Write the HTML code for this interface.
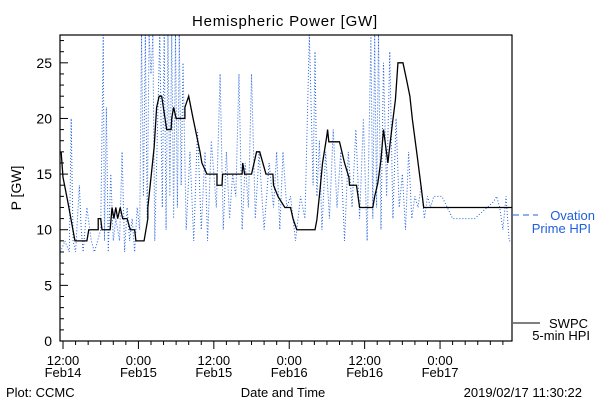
<!DOCTYPE html>
<html><head><meta charset="utf-8"><style>
body{margin:0;background:#fff}
svg{display:block;font-family:"Liberation Sans",sans-serif}
</style></head><body>
<svg id="chart" width="600" height="400" xmlns="http://www.w3.org/2000/svg">
<rect width="600" height="400" fill="#fff"/>
<text x="285" y="26" font-size="15" text-anchor="middle" letter-spacing="0.8">Hemispheric Power [GW]</text>
<text transform="translate(21,188) rotate(-90)" font-size="14" text-anchor="middle">P [GW]</text>
<text x="283" y="397" font-size="13" text-anchor="middle">Date and Time</text>
<text x="6" y="397" font-size="13">Plot: CCMC</text>
<text x="582" y="397" font-size="13" text-anchor="end">2019/02/17 11:30:22</text>
<g id="axes"></g>
<g id="series"></g>
<rect x="60" y="35" width="452" height="306" fill="none" stroke="#000" stroke-width="1.2"/>
<g>
<line x1="513" y1="215" x2="538" y2="215" stroke="#1f5fe0" stroke-width="1" stroke-dasharray="6,4"/>
<text x="595" y="220" font-size="13" fill="#1f5fe0" text-anchor="end">Ovation</text>
<text x="591" y="233" font-size="13" fill="#1f5fe0" text-anchor="end">Prime HPI</text>
</g>
<g>
<line x1="513" y1="323" x2="540" y2="323" stroke="#000" stroke-width="1"/>
<text x="588" y="328" font-size="13" text-anchor="end">SWPC</text>
<text x="590" y="340" font-size="13" text-anchor="end">5-min HPI</text>
</g>
</svg>
<script>
// hours since Feb14 12:00
const xTickHours=[0,12,24,36,48,60];
const xTickTop=["12:00","0:00","12:00","0:00","12:00","0:00"];
const xTickBottom=["Feb14","Feb15","Feb15","Feb16","Feb16","Feb17"];
const yTicks=[0,5,10,15,20,25];
const swpcHours=[-0.3,0,0.8,1.9,3.8,4.1,5.6,5.6,6,6.2,7.5,7.8,8.1,8.4,8.7,9.1,9.5,10.2,10.7,11.4,11.6,12.9,13.5,13.5,14.5,14.9,15.3,15.7,16.5,17.2,17.3,17.6,18,19.4,19.4,20,20.7,21.8,22.1,22.9,24.5,24.5,25.3,25.4,28.5,28.6,28.9,30,30.8,31.3,32.3,33.4,33.5,34.2,35.3,36.2,36.6,37.2,40.1,40.4,40.9,41.3,42,42.1,42.3,44,44.8,45.5,45.6,46.7,47.2,49.3,49.6,50.1,50.6,51,51.7,52.1,52.5,52.9,53.3,54.1,54.7,55.2,55.6,56.3,56.8,57.4,71.4];
const swpcValues=[17,14.7,12.4,9,9,10,10,11,11,10,10,12,11,12,11,12,11,11,10,10,9,9,11,12,17.4,21,22,22,19,19,20,21,20,20,21,22,20,17,16,15,15,14,14,15,15,16,15,15,17,17,15,15,14,13,12,12,11,10,10,10.9,13.6,16,18.5,19,17.9,17.9,16,14.7,14,14,12,12,13,14.2,16.3,19,16,18,19.9,21.7,25,25,23.4,22,19.9,16.9,14.7,12,12];
const ovHours=[-0.4,0.3,1,1.3,1.6,2,2.6,2.9,3.2,3.8,4.5,5,6,6.4,6.6,6.9,7.2,7.6,8,8.4,9,9.4,9.8,10.2,10.6,11,11.4,11.8,12.2,12.5,12.8,13.1,13.4,13.7,14,14.3,14.6,15.4,15.8,16.1,16.4,16.7,17,17.3,17.6,17.9,18.2,18.5,18.8,19.1,19.6,20.2,20.8,21.4,22,22.6,23,23.6,24.4,25,25.5,26,26.5,27,27.5,28,28.5,29,29.5,30,30.6,31.2,32,32.8,33.5,34,34.5,35,35.6,36.2,37,37.8,38.5,39.2,39.8,40.1,40.4,40.8,41.2,41.8,42.4,43,43.6,44.2,44.8,45.4,46,46.6,47.2,47.8,48.4,49,49.3,49.6,49.9,50.2,50.6,51,51.5,52,52.5,53,53.5,54,54.5,55,55.5,56,56.5,57,57.5,58,58.5,59,60,60.3,62,63.5,65.5,67.5,68.5,69,69.5,70,70.5,71,71.4];
const ovValues=[8,9,8,20,9,8,14,10,8,12,9,8,10,27.5,9,21,8,15,9,11,9,17,8,12,9,11,8,12,10,27.5,13,27.5,11,27.5,24,27.5,9,27.5,12,27.5,10,27.5,13,27.5,11,27.5,12,27.5,14,25,10,17,9,19,10,17,9,18,12,24,10,17,11,15,13,24,10,16,12,24,11,17,10,16,12,17,10,17,12,13,9,13,11,27.5,14,26,13,18,10,17,11,19,12,17,9,17,12,19,11,20,9,27.5,11,27.5,12,27.5,10,25,13,26,11,20,12,15,10,17,11,13,12,14,11,13,12,13,13,13,11,11,11,12,12.5,13,12,10,13,9,9];
const X0=60,X1=512,Y0=341,Y1=35;
const hMin=-0.48,hMax=71.45,vMax=27.5;
const xs=h=>X0+(h-hMin)/(hMax-hMin)*(X1-X0);
const ys=v=>Y0-v/vMax*(Y0-Y1);
const NS="http://www.w3.org/2000/svg";
const axes=document.getElementById('axes'),ser=document.getElementById('series');
function mk(tag,attrs,parent){const e=document.createElementNS(NS,tag);for(const k in attrs)e.setAttribute(k,attrs[k]);parent.appendChild(e);return e;}
for(let v=0;v<=27;v++){
  const t=mk('line',{x1:X0,x2:X0+(v%5===0?8:4),y1:ys(v),y2:ys(v),stroke:'#000'},axes);
  
  
}
yTicks.forEach(v=>{
  const t=mk('text',{x:X0-8,y:ys(v)+5,'font-size':14,'text-anchor':'end'},axes);t.textContent=v;
  
  
});
for(let h=0;h<=71;h+=2){
  const t=mk('line',{x1:xs(h),x2:xs(h),y1:Y0,y2:Y0+(h%12===0?8:4),stroke:'#000'},axes);
  
  
}
xTickHours.forEach((h,i)=>{
  const a=mk('text',{x:xs(h),y:365,'font-size':13,'text-anchor':'middle'},axes);a.textContent=xTickTop[i];
  
  
  const b=mk('text',{x:xs(h),y:377,'font-size':13,'text-anchor':'middle'},axes);b.textContent=xTickBottom[i];
  
  
});
const clip=mk('clipPath',{id:'pc'},ser);mk('rect',{x:X0,y:Y1,width:X1-X0,height:Y0-Y1},clip);
const ov=mk('polyline',{points:ovHours.map((h,i)=>xs(h)+','+ys(ovValues[i])).join(' '),fill:'none',stroke:'#1f5fe0','stroke-width':1,'stroke-dasharray':'1,2','clip-path':'url(#pc)'},ser);


const sw=mk('polyline',{points:swpcHours.map((h,i)=>xs(h)+','+ys(swpcValues[i])).join(' '),fill:'none',stroke:'#000','stroke-width':1.3,'clip-path':'url(#pc)'},ser);


</script>
</body></html>
